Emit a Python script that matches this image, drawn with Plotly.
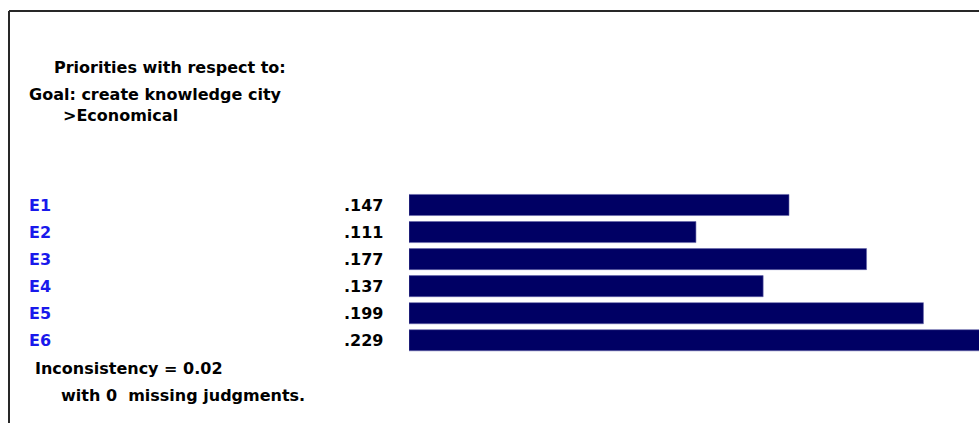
import plotly.graph_objects as go

W, H = 979, 423

categories = ['E1', 'E2', 'E3', 'E4', 'E5', 'E6']
priorities = [0.147, 0.111, 0.177, 0.137, 0.199, 0.229]

header_lines = ['Priorities with respect to:', 'Goal: create knowledge city', '>Economical']
inconsistency = 0.02
missing = 0

FONT = 'DejaVu Sans'
SIZE = 16
BAR = 'rgb(0,0,100)'
BLUE = 'rgb(25,25,235)'


def px_x(p):
    # page pixel -> paper fraction
    return p / W


def px_y(p):
    return 1 - p / H


fig = go.Figure(go.Bar(
    x=priorities, y=categories, orientation='h',
    marker=dict(color=BAR, line=dict(color='rgb(100,100,170)', width=0.6)),
    width=0.78, hoverinfo='skip'))

# row pitch ~27.05 px, first row centred at ~205 px
pitch = 27.05
first = 205.0
fig.update_layout(
    width=W, height=H,
    margin=dict(l=0, r=0, t=0, b=0),
    paper_bgcolor='white', plot_bgcolor='white',
    showlegend=False,
    xaxis=dict(domain=[px_x(409), 1], range=[0, 0.2205], visible=False, fixedrange=True),
    yaxis=dict(domain=[0, 1], range=[(H - first) / pitch, -first / pitch],
               visible=False, fixedrange=True, categoryorder='array', categoryarray=categories),
)

ann = []
hx = [52, 27, 61]
hy = [67, 94, 116]
for t, x, y in zip(header_lines, hx, hy):
    ann.append(dict(text=t, x=px_x(x), y=px_y(y), xref='paper', yref='paper',
                    xanchor='left', yanchor='middle', showarrow=False,
                    font=dict(family=FONT, size=SIZE, color='black', weight='bold')))

for c, v in zip(categories, priorities):
    ann.append(dict(text=c, x=px_x(27), y=c, xref='paper', yref='y',
                    xanchor='left', yanchor='middle', showarrow=False,
                    font=dict(family=FONT, size=SIZE, color=BLUE, weight='bold')))
    ann.append(dict(text=('%.3f' % v)[1:], x=px_x(385), y=c, xref='paper', yref='y',
                    xanchor='right', yanchor='middle', showarrow=False,
                    font=dict(family=FONT, size=SIZE, color='black', weight='bold')))

ann.append(dict(text='Inconsistency = %.2f' % inconsistency, x=px_x(33), y=px_y(368),
                xref='paper', yref='paper', xanchor='left', yanchor='middle', showarrow=False,
                font=dict(family=FONT, size=SIZE, color='black', weight='bold')))
ann.append(dict(text='with %d  missing judgments.' % missing, x=px_x(59), y=px_y(395),
                xref='paper', yref='paper', xanchor='left', yanchor='middle', showarrow=False,
                font=dict(family=FONT, size=SIZE, color='black', weight='bold')))
fig.update_layout(annotations=ann)

# frame (left and top edges)
fig.add_shape(type='line', xref='paper', yref='paper', x0=px_x(9), x1=px_x(9), y0=0, y1=px_y(11),
              line=dict(color='rgb(40,40,40)', width=2))
fig.add_shape(type='line', xref='paper', yref='paper', x0=px_x(9), x1=1, y0=px_y(11), y1=px_y(11),
              line=dict(color='rgb(40,40,40)', width=2))

# drop the default 8px body margin so the figure fills the window
fig.write_html('out.html', config={'displayModeBar': False},
               post_script="document.body.style.margin='0';document.body.style.overflow='hidden';")
